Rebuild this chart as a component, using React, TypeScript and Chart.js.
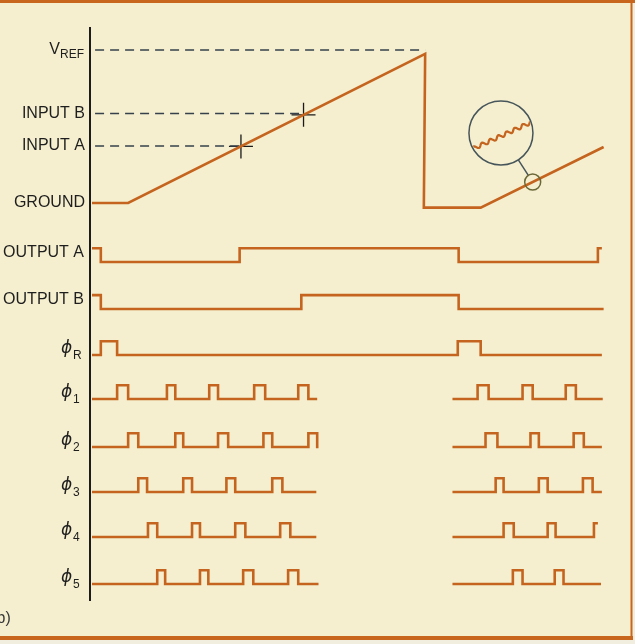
import { useEffect, useRef } from "react";
import { Chart, registerables } from "chart.js";

Chart.register(...registerables);

// ---- scale ranges (time units: one clock period ≈ 10) ----
const TIME_MIN = 0;
const TIME_MAX = 118;
const LEVEL_MIN = -26;
const LEVEL_MAX = 11.5;

// ---- analog ramp (levels in volts, ground = 0, VREF = 10) ----
const rampTimes = [0, 8.2, 75.6, 75.3, 88.2, 116.1];
const rampLevels = [0, 0, 9.75, -0.3, -0.3, 3.66];

// ---- reference levels on the left axis ----
const refLabels = ["V", "INPUT B", "INPUT A", "GROUND"];
const refSubs = ["REF", "", "", ""];
const refLevels = [10, 5.85, 3.72, 0];
const refDashEnds = [75.6, 48, 33.8, 0];

// ---- comparator crossing marks ----
const crossTimes = [33.8, 48];
const crossLevels = [3.7, 5.76];

// ---- digital rows ----
const rowLabels = ["OUTPUT A", "OUTPUT B", "ϕ", "ϕ", "ϕ", "ϕ", "ϕ", "ϕ"];
const rowSubs = ["", "", "R", "1", "2", "3", "4", "5"];
const rowBases = [-3.85, -6.92, -9.93, -12.8, -15.94, -18.88, -21.82, -24.89];
const rowStartHigh = [1, 1, 0, 0, 0, 0, 0, 0];
const PULSE = 0.9;

const outputASpans = [[0, 115.7]];
const outputAEdges = [[2, 33.5, 83.2, 114.8]];
const outputBSpans = [[0, 116.1]];
const outputBEdges = [[2, 47.5, 83.2]];
const phiRSpans = [[0, 115.7]];
const phiREdges = [[2, 5.7, 83, 88.2]];
const phi1Spans = [[0, 51.1], [81.8, 115.9]];
const phi1Edges = [
  [5.7, 8.2, 17, 18.9, 26.6, 28.6, 36.8, 39.3, 46.8, 49.1],
  [87.5, 90, 97.7, 100, 107.5, 109.8],
];
const phi2Spans = [[0, 51.4], [81.8, 115.7]];
const phi2Edges = [
  [8.2, 10.5, 18.9, 20.7, 28.6, 30.9, 38.9, 40.9, 49.1, 51.1],
  [89.3, 92, 99.5, 101.4, 109.3, 111.6],
];
const phi3Spans = [[0, 50.9], [81.8, 115.7]];
const phi3Edges = [
  [10.5, 12.5, 20.7, 22.7, 30.5, 32.5, 40.9, 43.2],
  [91.6, 93.4, 101.4, 103.4, 111.4, 113.6],
];
const phi4Spans = [[0, 50.9], [81.8, 114.8]];
const phi4Edges = [
  [12.7, 14.8, 22.7, 24.5, 32.5, 34.8, 42.7, 45],
  [93.4, 95.7, 103.4, 105.2, 113.9],
];
const phi5Spans = [[0, 51.4], [81.8, 115.5]];
const phi5Edges = [
  [14.8, 16.6, 24.5, 26.4, 34.3, 36.6, 44.5, 46.8],
  [95.5, 97.7, 105, 107],
];

const rowSpans = [outputASpans, outputBSpans, phiRSpans, phi1Spans, phi2Spans, phi3Spans, phi4Spans, phi5Spans];
const rowEdges = [outputAEdges, outputBEdges, phiREdges, phi1Edges, phi2Edges, phi3Edges, phi4Edges, phi5Edges];

// ---- magnifier (inset showing ramp noise) ----
const lensAt = [92.8, 4.575];
const spotAt = [100, 1.37];

// ---- colours ----
const BG = "#f5efcf";
const TRACE = "#c4641f";
const FRAME = "#c8661e";
const INK = "#1e1e1e";
const DASH = "#36414c";

function stepPoints(base: number, startHigh: number, spans: number[][], edges: number[][]) {
  const pts: { x: number; y: number | null }[] = [];
  spans.forEach(([from, to], i) => {
    if (i > 0) pts.push({ x: (spans[i - 1][1] + from) / 2, y: null });
    let lvl = startHigh;
    pts.push({ x: from, y: base + lvl * PULSE });
    for (const e of edges[i]) {
      pts.push({ x: e, y: base + lvl * PULSE });
      lvl = 1 - lvl;
      pts.push({ x: e, y: base + lvl * PULSE });
    }
    pts.push({ x: to, y: base + lvl * PULSE });
  });
  return pts;
}

const LABEL_FONT = '16px "Liberation Sans", Arial, sans-serif';
const SUB_FONT = '12px "Liberation Sans", Arial, sans-serif';
const PHI_FONT = 'italic 17px "DejaVu Sans", sans-serif';

const framePlugin = {
  id: "frame",
  beforeDraw(chart: any) {
    const { ctx, width, height } = chart;
    ctx.save();
    ctx.fillStyle = BG;
    ctx.fillRect(0, 0, width, height);
    ctx.fillStyle = "#f2eedf";
    ctx.fillRect(0, 640, width, height - 640);
    ctx.fillRect(633, 0, width - 633, height);
    ctx.fillStyle = FRAME;
    ctx.fillRect(0, 0, width, 3);
    ctx.fillRect(0, 636, 633, 4);
    ctx.fillRect(630.5, 0, 2, 640);
    ctx.restore();
  },
};

const decorPlugin = {
  id: "decor",
  afterDatasetsDraw(chart: any) {
    const { ctx, chartArea, scales } = chart;
    const xs = scales.x;
    const ys = scales.y;
    ctx.save();
    // vertical axis
    ctx.strokeStyle = "#1c1c1c";
    ctx.lineWidth = 2;
    ctx.beginPath();
    ctx.moveTo(chartArea.left - 2, chartArea.top);
    ctx.lineTo(chartArea.left - 2, chartArea.bottom);
    ctx.stroke();

    // magnifier
    const cx = xs.getPixelForValue(lensAt[0]);
    const cy = ys.getPixelForValue(lensAt[1]);
    const sx = xs.getPixelForValue(spotAt[0]);
    const sy = ys.getPixelForValue(spotAt[1]);
    const R = 32;
    const r = 8;
    const dx = sx - cx;
    const dy = sy - cy;
    const len = Math.hypot(dx, dy);
    const ux = dx / len;
    const uy = dy / len;
    ctx.strokeStyle = "#46555a";
    ctx.lineWidth = 1.5;
    ctx.beginPath();
    ctx.arc(cx, cy, R, 0, Math.PI * 2);
    ctx.stroke();
    ctx.beginPath();
    ctx.moveTo(cx + ux * R, cy + uy * R);
    ctx.lineTo(sx - ux * r, sy - uy * r);
    ctx.stroke();
    ctx.strokeStyle = "#6d6838";
    ctx.beginPath();
    ctx.arc(sx, sy, r, 0, Math.PI * 2);
    ctx.stroke();

    // wavy trace inside the lens
    ctx.save();
    ctx.beginPath();
    ctx.arc(cx, cy, R - 1, 0, Math.PI * 2);
    ctx.clip();
    const d = [0.91, -0.415];
    const n = [0.415, 0.91];
    ctx.strokeStyle = TRACE;
    ctx.lineWidth = 2.2;
    ctx.beginPath();
    for (let s = -36; s <= 36; s += 0.5) {
      const w = 1.8 * Math.sin((s * 2 * Math.PI) / 9);
      const px = cx + s * d[0] + w * n[0];
      const py = cy + 3 + s * d[1] + w * n[1];
      if (s === -36) ctx.moveTo(px, py);
      else ctx.lineTo(px, py);
    }
    ctx.stroke();
    ctx.restore();

    // labels
    ctx.fillStyle = INK;
    refLabels.forEach((t, i) => {
      const py = ys.getPixelForValue(refLevels[i]);
      if (refSubs[i]) {
        ctx.font = SUB_FONT;
        ctx.textAlign = "right";
        ctx.textBaseline = "alphabetic";
        const sw = ctx.measureText(refSubs[i]).width;
        ctx.fillText(refSubs[i], 84, py + 8);
        ctx.font = LABEL_FONT;
        ctx.fillText(t, 84 - sw, py + 4);
      } else {
        ctx.font = LABEL_FONT;
        ctx.textAlign = "right";
        ctx.textBaseline = "middle";
        ctx.fillText(t, 85, py);
      }
    });
    rowLabels.forEach((t, i) => {
      const py = ys.getPixelForValue(rowBases[i]);
      if (rowSubs[i]) {
        ctx.font = PHI_FONT;
        ctx.textAlign = "left";
        ctx.textBaseline = "middle";
        ctx.fillText(t, 61, py - 6);
        ctx.font = SUB_FONT;
        ctx.textBaseline = "alphabetic";
        ctx.fillText(rowSubs[i], 73, py + 4);
      } else {
        ctx.font = LABEL_FONT;
        ctx.textAlign = "right";
        ctx.textBaseline = "middle";
        ctx.fillText(t, 84, py - 9);
      }
    });
    ctx.font = '16px "Liberation Sans", Arial, sans-serif';
    ctx.textAlign = "left";
    ctx.textBaseline = "alphabetic";
    ctx.fillStyle = "#3a3a3a";
    ctx.fillText("b)", -3.5, 623);
    ctx.restore();
  },
};

export default function App() {
  const ref = useRef<HTMLCanvasElement | null>(null);
  useEffect(() => {
    if (!ref.current) return;
    const datasets: any[] = [];

    datasets.push({
      label: "ramp",
      data: rampTimes.map((t, i) => ({ x: t, y: rampLevels[i] })),
      showLine: true,
      borderColor: TRACE,
      borderWidth: 2.6,
      pointRadius: 0,
      clip: false,
    });

    refLabels.forEach((_, i) => {
      if (refDashEnds[i] <= 0) return;
      datasets.push({
        label: "dash " + i,
        data: [
          { x: 0.7, y: refLevels[i] },
          { x: refDashEnds[i], y: refLevels[i] },
        ],
        showLine: true,
        borderColor: DASH,
        borderWidth: 1.5,
        borderDash: [9, 6],
        pointRadius: 0,
        clip: false,
      });
    });

    datasets.push({
      label: "crossings",
      data: crossTimes.map((t, i) => ({ x: t, y: crossLevels[i] })),
      showLine: false,
      pointStyle: "cross",
      pointRadius: 12,
      borderColor: "#1a1a1a",
      borderWidth: 1.3,
      clip: false,
    });

    rowLabels.forEach((name, i) => {
      datasets.push({
        label: name + rowSubs[i],
        data: stepPoints(rowBases[i], rowStartHigh[i], rowSpans[i], rowEdges[i]),
        showLine: true,
        spanGaps: false,
        borderColor: TRACE,
        borderWidth: 2.6,
        pointRadius: 0,
        clip: false,
      });
    });

    const chart = new Chart(ref.current, {
      type: "scatter",
      data: { datasets },
      options: {
        animation: false,
        responsive: false,
        events: [],
        layout: { padding: { left: 92, right: 23, top: 27, bottom: 43 } },
        elements: { line: { tension: 0, borderJoinStyle: "miter", borderCapStyle: "butt" } },
        scales: {
          x: { type: "linear", min: TIME_MIN, max: TIME_MAX, display: false },
          y: { type: "linear", min: LEVEL_MIN, max: LEVEL_MAX, display: false },
        },
        plugins: { legend: { display: false }, tooltip: { enabled: false } },
      },
      plugins: [framePlugin, decorPlugin],
    } as any);
    return () => chart.destroy();
  }, []);

  return (
    <div style={{ position: "fixed", left: 0, top: 0, width: 635, height: 644 }}>
      <canvas ref={ref} width={635} height={644} />
    </div>
  );
}
